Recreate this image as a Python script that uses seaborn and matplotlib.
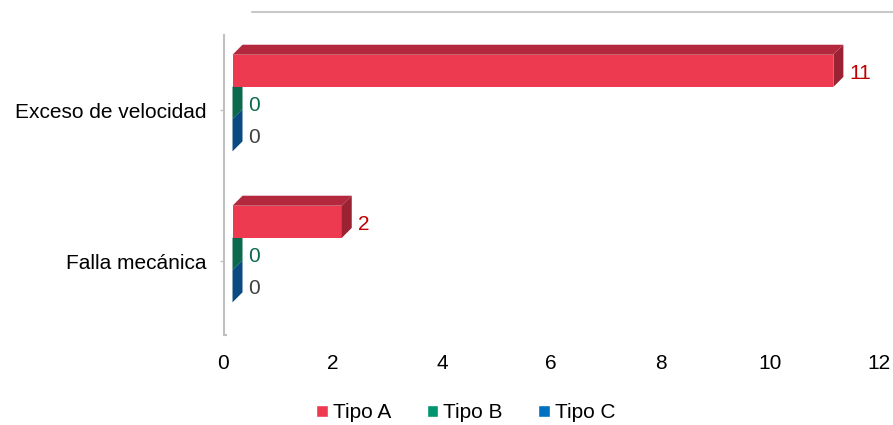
import matplotlib
matplotlib.use('Agg')
import matplotlib.pyplot as plt
import pandas as pd
import seaborn as sns
from matplotlib.patches import Polygon, Patch
from matplotlib.lines import Line2D
from matplotlib.transforms import ScaledTranslation


# Data
causas = ['Exceso de velocidad', 'Falla mecánica']
tipos = ['Tipo A', 'Tipo B', 'Tipo C']
tipo_a = [11, 2]
tipo_b = [0, 0]
tipo_c = [0, 0]
x_ticks = [0, 2, 4, 6, 8, 10, 12]

# Colours for the front, top and side faces of the 3D bars
colores = {'Tipo A': '#EE3A51', 'Tipo B': '#00946F', 'Tipo C': '#0070C0'}
techo = {'Tipo A': '#B3283D', 'Tipo B': '#0B6A4E', 'Tipo C': '#0A4A80'}
lado = {'Tipo A': '#9B2233', 'Tipo B': '#0B6A4E', 'Tipo C': '#0A4A80'}
color_etiqueta = {'Tipo A': '#C00000', 'Tipo B': '#0B6A4E', 'Tipo C': '#404040'}

df = pd.DataFrame({
    'causa': causas * len(tipos),
    'tipo': [t for t in tipos for _ in causas],
    'valor': tipo_a + tipo_b + tipo_c,
})

sns.set_style('white')
plt.rcParams['font.family'] = ['Liberation Sans', 'DejaVu Sans']
plt.rcParams['font.size'] = 15
plt.rcParams['text.color'] = 'black'
plt.rcParams['xtick.labelcolor'] = 'black'
plt.rcParams['ytick.labelcolor'] = 'black'

W, H = 893, 425
fig = plt.figure(figsize=(W / 100, H / 100), dpi=100)
ax = fig.add_axes([223.5 / W, 1 - 335 / H, 655.5 / W, 300 / H])

sns.barplot(data=df, y='causa', x='valor', hue='tipo', order=causas, hue_order=tipos,
            orient='h', palette=colores, width=0.64, saturation=1, errorbar=None,
            legend=False, ax=ax)

ax.set_xlim(0, 12)
ax.set_ylim(1.49, -0.497)

# pixel size of one data unit (axes are fixed)
sx = 655.5 / 12
sy = 300 / (1.49 + 0.497)
dx, dy = 10 / sx, 10 / sy  # depth of the 3D effect

# the front of the bars sits a bit right of / above the axis
off = ax.transData + ScaledTranslation(0.09, 0.07, fig.dpi_scale_trans)
off_lbl = ax.transData + ScaledTranslation(0.15, 0.045, fig.dpi_scale_trans)

for z, (tipo, cont) in zip([4, 3, 2], zip(tipos, ax.containers)):
    for p in cont:
        x0, w = p.get_x(), p.get_width()
        y0, h = p.get_y(), p.get_height()
        p.set_transform(off)
        p.set_zorder(z)
        p.set_linewidth(0)
        top = [(x0, y0), (x0 + w, y0), (x0 + w + dx, y0 - dy), (x0 + dx, y0 - dy)]
        side = [(x0 + w, y0), (x0 + w + dx, y0 - dy), (x0 + w + dx, y0 + h - dy), (x0 + w, y0 + h)]
        ax.add_patch(Polygon(top, closed=True, facecolor=techo[tipo], lw=0, transform=off, zorder=z))
        ax.add_patch(Polygon(side, closed=True, facecolor=lado[tipo], lw=0, transform=off, zorder=z))
        ax.text(x0 + w + dx, y0 + h / 2, f'{w:g}', transform=off_lbl, ha='left', va='center',
                color=color_etiqueta[tipo], fontsize=15, zorder=5)

# axes styling
for s in ['top', 'right', 'bottom']:
    ax.spines[s].set_visible(False)
ax.spines['left'].set_color('#BFBFBF')
ax.spines['left'].set_linewidth(1.5)
ax.tick_params(axis='y', left=True, length=3, width=1, color='#BFBFBF', pad=9,
               labelsize=15, labelcolor='black')
ax.tick_params(axis='x', bottom=False, length=0, pad=13.5, labelsize=15, labelcolor='black')
ax.set_xticks(x_ticks)
ax.set_xlabel('')
ax.set_ylabel('')
ax.plot([0, 3 / 655.5], [0, 0], transform=ax.transAxes, color='#BFBFBF', lw=1.5,
        clip_on=False, solid_capstyle='butt')

# back wall top edge
fig.add_artist(Line2D([252 / W, 1.0], [1 - 12 / H] * 2, color='#C8C8C8', lw=1.5))

handles = [Patch(facecolor=colores[t], label=t) for t in tipos]
fig.legend(handles=handles, loc='center', bbox_to_anchor=(466 / W, 1 - 413 / H), ncol=3,
           frameon=False, handlelength=0.55, handleheight=0.55, handletextpad=0.25,
           columnspacing=1.7, fontsize=15, labelcolor='black')

fig.savefig('out.png', dpi=100)
